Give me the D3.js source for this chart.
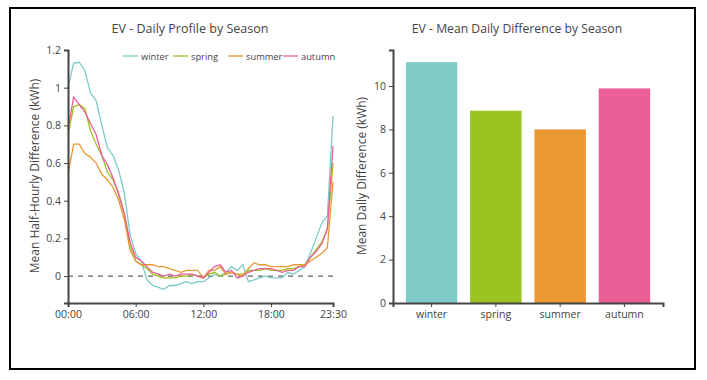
<!DOCTYPE html>
<html>
<head>
<meta charset="utf-8">
<script src="https://cdn.jsdelivr.net/npm/d3@7"></script>
<style>
  body { margin: 0; background: #fff; }
  svg { font-family: "Open Sans", sans-serif; }
</style>
</head>
<body>
<svg id="chart" width="707" height="380"></svg>
<script>
// Data
const seasons = ["winter", "spring", "summer", "autumn"];
const colors = ["#7ecbc8", "#9bc31f", "#ea9832", "#ec5e96"];
const times = d3.range(48).map(i => String(Math.floor(i / 2)).padStart(2, "0") + ":" + (i % 2 ? "30" : "00"));
const timeTicks = ["00:00", "06:00", "12:00", "18:00", "23:30"];

const winter = [1.0, 1.13, 1.135, 1.09, 0.97, 0.93, 0.80, 0.68, 0.64, 0.56, 0.44, 0.22,
  0.12, 0.08, -0.02, -0.05, -0.06, -0.07, -0.05, -0.05, -0.04, -0.03, -0.04, -0.03,
  -0.03, -0.01, 0.01, 0.0, 0.02, 0.05, 0.03, 0.06, -0.03, -0.02, -0.01, 0.0,
  -0.01, -0.01, -0.01, 0.02, 0.01, 0.03, 0.05, 0.12, 0.2, 0.28, 0.32, 0.85];
const spring = [0.75, 0.9, 0.91, 0.89, 0.77, 0.70, 0.64, 0.55, 0.51, 0.44, 0.33, 0.16,
  0.08, 0.06, 0.04, 0.01, 0.0, -0.01, -0.01, -0.01, 0.0, 0.0, 0.01, 0.0,
  -0.01, 0.01, 0.02, 0.0, 0.01, 0.02, 0.01, 0.01, 0.03, 0.03, 0.03, 0.04,
  0.03, 0.03, 0.03, 0.04, 0.04, 0.05, 0.06, 0.1, 0.14, 0.18, 0.25, 0.6];
const summer = [0.54, 0.70, 0.70, 0.65, 0.63, 0.60, 0.54, 0.51, 0.47, 0.40, 0.30, 0.14,
  0.08, 0.06, 0.06, 0.06, 0.05, 0.05, 0.04, 0.03, 0.02, 0.03, 0.03, 0.03,
  -0.01, 0.03, 0.03, 0.05, 0.01, 0.02, 0.01, 0.0, 0.04, 0.07, 0.06, 0.06,
  0.05, 0.05, 0.05, 0.05, 0.06, 0.06, 0.06, 0.08, 0.1, 0.12, 0.15, 0.5];
const autumn = [0.78, 0.95, 0.91, 0.87, 0.81, 0.75, 0.64, 0.59, 0.52, 0.43, 0.33, 0.18,
  0.1, 0.08, 0.05, 0.02, 0.01, 0.0, 0.01, 0.0, 0.01, 0.01, 0.01, 0.0,
  -0.01, 0.02, 0.05, 0.06, 0.02, 0.03, -0.01, 0.0, 0.02, 0.03, 0.04, 0.04,
  0.04, 0.03, 0.02, 0.03, 0.03, 0.05, 0.05, 0.1, 0.13, 0.17, 0.25, 0.69];
const profiles = [winter, spring, summer, autumn];

const dailyMeans = [11.1, 8.86, 8.0, 9.89];

const svg = d3.select("#chart");
const textColor = "#444";
const axisColor = "#444";

// outer frame
svg.append("rect")
  .attr("x", 10).attr("y", 8).attr("width", 685).attr("height", 361)
  .attr("fill", "none").attr("stroke", "#000").attr("stroke-width", 2);

function styleAxis(g) {
  g.select(".domain").attr("stroke", axisColor).attr("stroke-width", 2);
  g.selectAll(".tick line").attr("stroke", axisColor);
  g.selectAll(".tick text").attr("fill", textColor).style("font-size", "10.5px")
    .style("font-family", "'Open Sans', sans-serif");
}

// ---- left: daily profile ----
const x1 = d3.scalePoint().domain(times).range([68, 333]);
const y1 = d3.scaleLinear().domain([-0.143, 1.2]).range([303, 50]);

svg.append("line")
  .attr("x1", 68).attr("x2", 333)
  .attr("y1", y1(0)).attr("y2", y1(0))
  .attr("stroke", "#666").attr("stroke-width", 1.2)
  .attr("stroke-dasharray", "5,5");

const line = d3.line()
  .x((d, i) => x1(times[i]))
  .y(d => y1(d));

profiles.forEach((p, k) => {
  svg.append("path")
    .datum(p)
    .attr("fill", "none")
    .attr("stroke", colors[k])
    .attr("stroke-width", 1.3)
    .attr("d", line);
});

svg.append("g")
  .attr("transform", "translate(0,303)")
  .call(d3.axisBottom(x1).tickValues(timeTicks).tickSize(4).tickPadding(4))
  .call(styleAxis);

svg.append("g")
  .attr("transform", "translate(68,0)")
  .call(d3.axisLeft(y1).tickValues([0, 0.2, 0.4, 0.6, 0.8, 1, 1.2]).tickSize(4).tickPadding(3)
    .tickFormat(d3.format("~g")))
  .call(styleAxis);

svg.append("text")
  .attr("x", 190).attr("y", 33)
  .attr("text-anchor", "middle")
  .attr("fill", textColor).style("font-size", "12.5px")
  .text("EV - Daily Profile by Season");

svg.append("text")
  .attr("transform", "translate(39,176) rotate(-90)")
  .attr("text-anchor", "middle")
  .attr("fill", textColor).style("font-size", "12px")
  .text("Mean Half-Hourly Difference (kWh)");

// legend
const legendX = [123, 173, 228, 283];
const legend = svg.append("g");
seasons.forEach((s, k) => {
  legend.append("line")
    .attr("x1", legendX[k]).attr("x2", legendX[k] + 15)
    .attr("y1", 56).attr("y2", 56)
    .attr("stroke", colors[k]).attr("stroke-width", 1.3);
  legend.append("text")
    .attr("x", legendX[k] + 18).attr("y", 59.5)
    .attr("fill", textColor).style("font-size", "9.3px")
    .text(s);
});

// ---- right: mean daily difference ----
const x2 = d3.scaleBand().domain(seasons).range([393, 663]).padding(0.2);
const y2 = d3.scaleLinear().domain([0, 11.66]).range([303, 50]);

svg.append("g")
  .selectAll("rect")
  .data(dailyMeans)
  .join("rect")
  .attr("x", (d, i) => x2(seasons[i]))
  .attr("width", x2.bandwidth())
  .attr("y", d => y2(d))
  .attr("height", d => y2(0) - y2(d))
  .attr("fill", (d, i) => colors[i]);

svg.append("g")
  .attr("transform", "translate(0,303)")
  .call(d3.axisBottom(x2).tickSize(4).tickPadding(4))
  .call(styleAxis);

svg.append("g")
  .attr("transform", "translate(393,0)")
  .call(d3.axisLeft(y2).tickValues([0, 2, 4, 6, 8, 10]).tickSize(4).tickPadding(3))
  .call(styleAxis);

svg.append("text")
  .attr("x", 517).attr("y", 33)
  .attr("text-anchor", "middle")
  .attr("fill", textColor).style("font-size", "12.2px")
  .text("EV - Mean Daily Difference by Season");

svg.append("text")
  .attr("transform", "translate(366,176) rotate(-90)")
  .attr("text-anchor", "middle")
  .attr("fill", textColor).style("font-size", "12px")
  .text("Mean Daily Difference (kWh)");
</script>
</body>
</html>
